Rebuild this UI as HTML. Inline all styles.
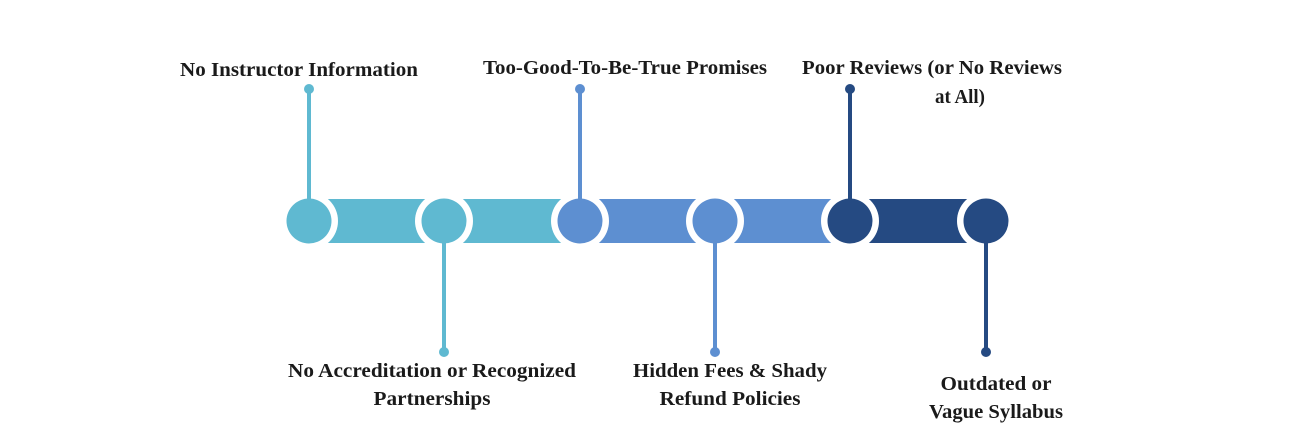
<!DOCTYPE html>
<html><head><meta charset="utf-8"><style>
html,body{margin:0;padding:0;background:#fff;width:1296px;height:443px;overflow:hidden}
svg text{font-family:"Liberation Serif",serif;font-weight:bold;font-size:20px;fill:#1a1a1a}
</style></head><body>
<svg width="1296" height="443" viewBox="0 0 1296 443" xmlns="http://www.w3.org/2000/svg">
<defs>
<mask id="m">
<rect x="0" y="0" width="1296" height="443" fill="#fff"/>
<circle cx="309" cy="221" r="29" fill="#000"/>
<circle cx="444" cy="221" r="29" fill="#000"/>
<circle cx="580" cy="221" r="29" fill="#000"/>
<circle cx="715" cy="221" r="29" fill="#000"/>
<circle cx="850" cy="221" r="29" fill="#000"/>
<circle cx="986" cy="221" r="29" fill="#000"/>
</mask>
</defs>
<g mask="url(#m)">
<rect x="309" y="199" width="271" height="44" fill="#5fb9d1"/>
<rect x="580" y="199" width="270" height="44" fill="#5d8fd1"/>
<rect x="850" y="199" width="136" height="44" fill="#254a82"/>
</g>
<g stroke-width="4">
<line x1="309" y1="89" x2="309" y2="210" stroke="#5fb9d1"/>
<line x1="444" y1="230" x2="444" y2="352" stroke="#5fb9d1"/>
<line x1="580" y1="89" x2="580" y2="210" stroke="#5d8fd1"/>
<line x1="715" y1="230" x2="715" y2="352" stroke="#5d8fd1"/>
<line x1="850" y1="89" x2="850" y2="210" stroke="#254a82"/>
<line x1="986" y1="230" x2="986" y2="352" stroke="#254a82"/>
</g>
<circle cx="309" cy="89" r="5" fill="#5fb9d1"/>
<circle cx="444" cy="352" r="5" fill="#5fb9d1"/>
<circle cx="580" cy="89" r="5" fill="#5d8fd1"/>
<circle cx="715" cy="352" r="5" fill="#5d8fd1"/>
<circle cx="850" cy="89" r="5" fill="#254a82"/>
<circle cx="986" cy="352" r="5" fill="#254a82"/>
<circle cx="309" cy="221" r="22.5" fill="#5fb9d1"/>
<circle cx="444" cy="221" r="22.5" fill="#5fb9d1"/>
<circle cx="580" cy="221" r="22.5" fill="#5d8fd1"/>
<circle cx="715" cy="221" r="22.5" fill="#5d8fd1"/>
<circle cx="850" cy="221" r="22.5" fill="#254a82"/>
<circle cx="986" cy="221" r="22.5" fill="#254a82"/>
<g text-anchor="middle" lengthAdjust="spacingAndGlyphs">
<text x="299" y="76" textLength="238" lengthAdjust="spacingAndGlyphs">No Instructor Information</text>
<text x="625" y="74" textLength="284" lengthAdjust="spacingAndGlyphs">Too-Good-To-Be-True Promises</text>
<text x="932" y="74" textLength="260" lengthAdjust="spacingAndGlyphs">Poor Reviews (or No Reviews</text>
<text x="960" y="103" textLength="50" lengthAdjust="spacingAndGlyphs">at All)</text>
<text x="432" y="377" textLength="288" lengthAdjust="spacingAndGlyphs">No Accreditation or Recognized</text>
<text x="432" y="405" textLength="117" lengthAdjust="spacingAndGlyphs">Partnerships</text>
<text x="730" y="377" textLength="194" lengthAdjust="spacingAndGlyphs">Hidden Fees &amp; Shady</text>
<text x="730" y="405" textLength="141" lengthAdjust="spacingAndGlyphs">Refund Policies</text>
<text x="996" y="390" textLength="111" lengthAdjust="spacingAndGlyphs">Outdated or</text>
<text x="996" y="418" textLength="134" lengthAdjust="spacingAndGlyphs">Vague Syllabus</text>
</g>
</svg>
</body></html>
